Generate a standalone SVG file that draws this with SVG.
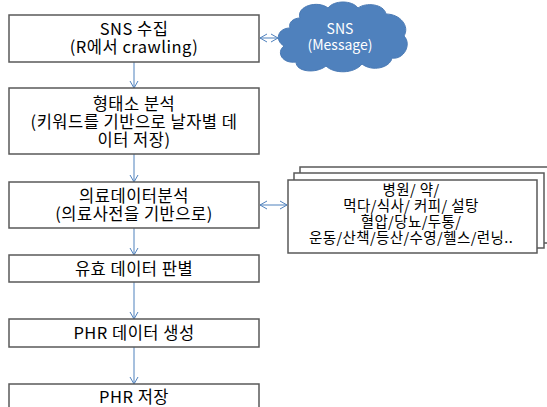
<svg xmlns="http://www.w3.org/2000/svg" width="547" height="407" viewBox="0 0 547 407">
<style>
.box{fill:#fff;stroke:#595959;stroke-width:1.5}
.t{font-family:"Noto Sans CJK KR","Noto Sans",sans-serif;font-size:16.5px;letter-spacing:0.5px;fill:#000;text-anchor:middle}
.s{font-size:14.5px;letter-spacing:0.4px}
.w{fill:#fff;font-size:14px;letter-spacing:0}
.c{stroke:#4F81BD;stroke-width:1;fill:none}
</style>
<defs>
<marker id="ah" markerWidth="10" markerHeight="10" refX="8" refY="5" orient="auto" markerUnits="userSpaceOnUse">
<path d="M1,1 L8,5 L1,9" fill="none" stroke="#4F81BD" stroke-width="1"/>
</marker>
<marker id="as" markerWidth="10" markerHeight="10" refX="2" refY="5" orient="auto" markerUnits="userSpaceOnUse">
<path d="M9,1 L2,5 L9,9" fill="none" stroke="#4F81BD" stroke-width="1"/>
</marker>
</defs>
<g id="connectors">
<line class="c" x1="134" y1="62" x2="134" y2="88" marker-end="url(#ah)"/>
<line class="c" x1="134" y1="154" x2="134" y2="182" marker-end="url(#ah)"/>
<line class="c" x1="134" y1="228" x2="134" y2="255" marker-end="url(#ah)"/>
<line class="c" x1="134" y1="282" x2="134" y2="319" marker-end="url(#ah)"/>
<line class="c" x1="134" y1="347" x2="134" y2="384" marker-end="url(#ah)"/>
<line class="c" x1="260" y1="38" x2="278" y2="38" marker-start="url(#as)" marker-end="url(#ah)"/>
<line class="c" x1="260" y1="205" x2="287" y2="205" marker-start="url(#as)" marker-end="url(#ah)"/>
</g>
<g id="n1"><rect class="box" x="9" y="15" width="250" height="47"/>
<text class="t" x="134" y="35">SNS 수집</text><text class="t" x="134" y="53">(R에서 crawling)</text></g>
<g id="n2"><rect class="box" x="9" y="88" width="250" height="66"/>
<text class="t" x="134" y="110">형태소 분석</text><text class="t" x="134" y="128">(키워드를 기반으로 날자별 데</text><text class="t" x="134" y="146">이터 저장)</text></g>
<g id="n3"><rect class="box" x="9" y="182" width="250" height="46"/>
<text class="t" x="134" y="202">의료데이터분석</text><text class="t" x="134" y="220">(의료사전을 기반으로)</text></g>
<g id="n4"><rect class="box" x="9" y="255" width="250" height="27"/>
<text class="t" x="134" y="275">유효 데이터 판별</text></g>
<g id="n5"><rect class="box" x="9" y="319" width="250" height="28"/>
<text class="t" x="134" y="339">PHR 데이터 생성</text></g>
<g id="n6"><rect class="box" x="9" y="384" width="250" height="30"/>
<text class="t" x="134" y="403">PHR 저장</text></g>
<g id="cloud">
<path d="M300,18 C296,6 318,0 328,8 C334,0 352,0 358,8 C366,2 384,4 386,14 C400,14 410,26 404,36 C412,44 404,60 392,58 C390,68 372,72 362,64 C354,74 334,74 326,66 C316,74 296,72 296,62 C282,64 276,52 284,46 C274,40 278,28 290,28 C288,22 294,18 300,18 Z" fill="#4F81BD" stroke="#4A7AB5" stroke-width="1"/>
<text class="t w" x="340" y="34">SNS</text><text class="t w" x="340" y="50">(Message)</text></g>
<g id="stack">
<rect class="box" x="300" y="167" width="250" height="76"/>
<rect class="box" x="294" y="173" width="250" height="75"/>
<rect class="box" x="288" y="180" width="249" height="73"/>
<text class="t s" x="411" y="195">병원/ 약/</text>
<text class="t s" x="411" y="211">먹다/식사/ 커피/ 설탕</text>
<text class="t s" x="411" y="227">혈압/당뇨/두통/</text>
<text class="t s" x="411" y="243">운동/산책/등산/수영/헬스/런닝..</text>
</g>
</svg>
